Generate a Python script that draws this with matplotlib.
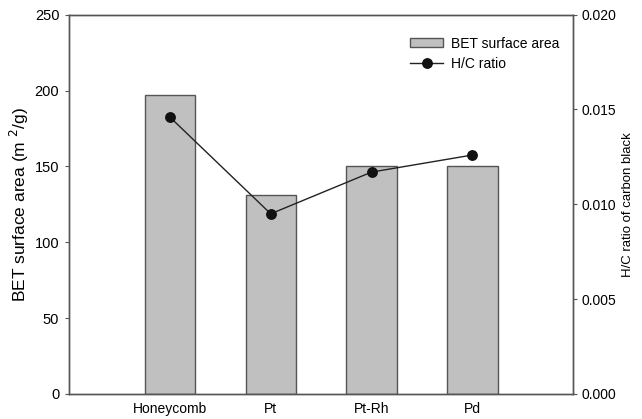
import matplotlib
matplotlib.use("Agg")
import matplotlib.pyplot as plt
from matplotlib.lines import Line2D
from matplotlib.patches import Patch

plt.rcParams['font.family'] = ['Liberation Sans', 'DejaVu Sans']

categories = ["Honeycomb", "Pt", "Pt-Rh", "Pd"]
bet_area = [197, 131, 150.5, 150]
hc_ratio = [0.0146, 0.0095, 0.0117, 0.0126]

spine_c = "#555555"
fig = plt.figure(figsize=(6.42, 4.19), dpi=100)
ax = fig.add_axes([0.1075, 0.0597, 0.893 - 0.1075, 0.965 - 0.0597])
pos = list(range(1, len(categories) + 1))
ax.bar(pos, bet_area, width=0.5, color="#c0c0c0", edgecolor=spine_c, linewidth=1.0, zorder=1)
ax.set_xlim(0, 5)
ax.set_ylim(0, 250)
ax.set_xticks(pos)
ax.set_xticklabels(categories, fontsize=10)
ax.set_yticks([0, 50, 100, 150, 200, 250])
ax.tick_params(axis='x', length=0, pad=6)
ax.tick_params(axis='y', length=3, width=0.8, color=spine_c, labelsize=10.5, pad=4)
ax.set_ylabel("BET surface area (m $^{2}$/g)", fontsize=12.5, labelpad=3)

ax2 = ax.twinx()
ax2.plot(pos, hc_ratio, color="#222222", linewidth=1.0, marker='o', markersize=6.8,
         markerfacecolor="#111111", markeredgecolor="#111111", zorder=3)
ax2.set_ylim(0, 0.020)
ax2.set_yticks([0.000, 0.005, 0.010, 0.015, 0.020])
ax2.set_yticklabels(["0.000", "0.005", "0.010", "0.015", "0.020"])
ax2.tick_params(axis='y', length=3, width=0.8, color=spine_c, labelsize=10, pad=3)
ax2.set_ylabel("H/C ratio of carbon black", fontsize=9.5)
ax2.yaxis.set_label_coords(1.096, 0.5)

for a in (ax, ax2):
    for s in a.spines.values():
        s.set_color(spine_c)
        s.set_linewidth(1.0)

handles = [Patch(facecolor="#c0c0c0", edgecolor=spine_c, linewidth=1.0),
           Line2D([0], [0], color="#222222", lw=1.0, marker='o', markersize=6.8,
                  markerfacecolor="#111111", markeredgecolor="#111111")]
ax2.legend(handles, ["BET surface area", "H/C ratio"], loc='upper right',
           bbox_to_anchor=(0.997, 0.975), frameon=False, fontsize=10,
           handlelength=2.4, handleheight=0.6, handletextpad=0.55, labelspacing=0.45)

fig.savefig("out.png", dpi=100)
